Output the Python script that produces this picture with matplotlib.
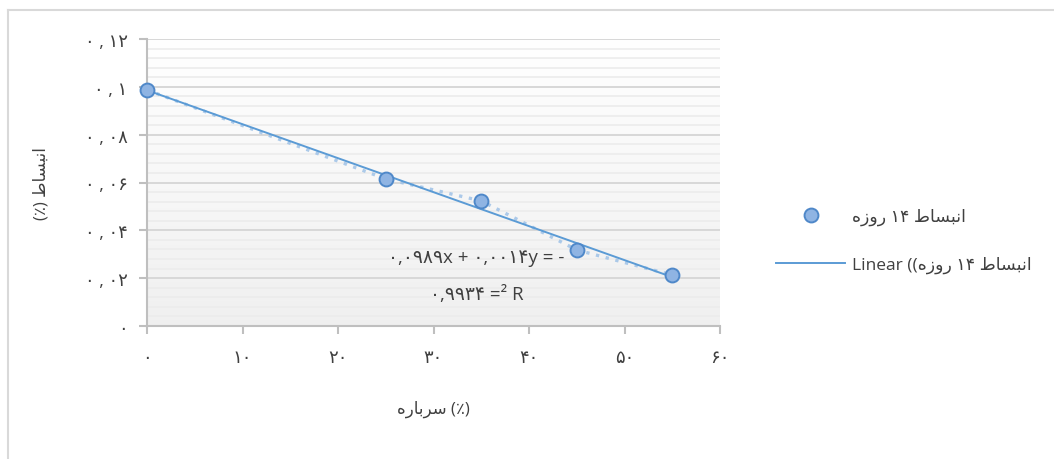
import numpy as np
import matplotlib.pyplot as plt
from matplotlib.lines import Line2D

# data
slag = [0, 25, 35, 45, 55]
expansion = [0.0987, 0.0615, 0.0523, 0.0318, 0.0213]
x_ticks = [0, 10, 20, 30, 40, 50, 60]
y_ticks = [0, 0.02, 0.04, 0.06, 0.08, 0.10, 0.12]

FA_DIGITS = str.maketrans('0123456789.', '۰۱۲۳۴۵۶۷۸۹,')

# (isolated, final, initial, medial) forms; None = letter does not join the next one
FORMS = {
    'ا': ('\uFE8D', '\uFE8E', None, None),
    'ب': ('\uFE8F', '\uFE90', '\uFE91', '\uFE92'),
    'ن': ('\uFEE5', '\uFEE6', '\uFEE7', '\uFEE8'),
    'س': ('\uFEB1', '\uFEB2', '\uFEB3', '\uFEB4'),
    'ط': ('\uFEC1', '\uFEC2', '\uFEC3', '\uFEC4'),
    'ر': ('\uFEAD', '\uFEAE', None, None),
    'ز': ('\uFEAF', '\uFEB0', None, None),
    'و': ('\uFEED', '\uFEEE', None, None),
    'ه': ('\uFEE9', '\uFEEA', '\uFEEB', '\uFEEC'),
}


def shape(word):
    # join the letters of one Persian word and return it in visual order
    out = []
    for i, ch in enumerate(word):
        iso, fin, ini, med = FORMS[ch]
        prev_joins = i > 0 and FORMS[word[i - 1]][2] is not None
        next_joins = i < len(word) - 1 and ini is not None
        if prev_joins and next_joins:
            out.append(med)
        elif prev_joins:
            out.append(fin)
        elif next_joins:
            out.append(ini)
        else:
            out.append(iso)
    return ''.join(out[::-1])


def fa(v):
    s = ('%g' % v)
    return s.translate(FA_DIGITS)


series_name = shape('روزه') + ' ۱۴ ' + shape('انبساط')
x_label = shape('سرباره') + ' (٪)'
y_label = '(٪) ' + shape('انبساط')

plt.rcParams['font.family'] = ['Open Sans', 'DejaVu Sans']

fig = plt.figure(figsize=(10.54, 4.6), dpi=100)
ax = fig.add_axes([147 / 1054, 1 - 327 / 460, (720 - 147) / 1054, (327 - 40) / 460])

# outer chart border (left and top visible)
fig.add_artist(Line2D([8 / 1054, 8 / 1054], [0, 1 - 11 / 460], transform=fig.transFigure,
                      color='#d9d9d9', lw=1.5))
fig.add_artist(Line2D([8 / 1054, 1], [1 - 11 / 460, 1 - 11 / 460], transform=fig.transFigure,
                      color='#d9d9d9', lw=1.5))

# plot area gradient, white at top to light grey at bottom
g = np.linspace(1.0, 0.94, 256).reshape(-1, 1, 1)
grad = np.repeat(g, 3, axis=2)
ax.imshow(grad, extent=[0, 60, 0, 0.12], aspect='auto', origin='upper', zorder=0)

ax.set_xlim(0, 60)
ax.set_ylim(0, 0.12)

# faint stripes and major gridlines
for yv in np.arange(0, 0.1201, 0.004):
    ax.axhline(yv, color='#ececec', lw=1.2, zorder=1)
for yv in y_ticks[1:]:
    ax.axhline(yv, color='#d4d4d4', lw=1.2, zorder=1)

# points joined by a dotted line
ax.plot(slag, expansion, linestyle=(0, (1, 2)), color='#9fc2e7', lw=2.4, alpha=0.85, zorder=2)

# linear trendline
k, b = np.polyfit(slag, expansion, 1)
xs = np.array([min(slag), max(slag)])
ax.plot(xs, k * xs + b, color='#5b9bd5', lw=1.4, zorder=3)

ax.plot(slag, expansion, 'o', ms=10, mfc='#8fb4e3', mec='#4f88c9', mew=1.4, zorder=4,
        clip_on=False)

ax.text(34.5, 0.0290, '۰,۰۹۸۹x + ۰,۰۰۱۴y = -', ha='center', va='center', fontsize=13.5,
        color='#404040', zorder=5)
ax.text(34.5, 0.0133, '۰,۹۹۳۴ =² R', ha='center', va='center', fontsize=13.5,
        color='#404040', zorder=5)

for side in ['top', 'right']:
    ax.spines[side].set_visible(False)
for side in ['left', 'bottom']:
    ax.spines[side].set_color('#bfbfbf')
    ax.spines[side].set_linewidth(1.5)

ax.set_xticks(x_ticks)
ax.set_xticklabels([fa(v) for v in x_ticks])
ax.set_yticks(y_ticks)
ax.set_yticklabels(['۰'] + [fa(round(v, 2)).replace(',', ' , ') for v in y_ticks[1:]])
ax.tick_params(axis='both', colors='#bfbfbf', length=6, width=1.5, labelcolor='#404040',
               labelsize=13)
ax.tick_params(axis='x', pad=10)
ax.tick_params(axis='y', pad=8)

ax.set_xlabel(x_label, fontsize=12, color='#404040', labelpad=24)
ax.set_ylabel(y_label, fontsize=12, color='#404040', labelpad=25)

handles = [
    Line2D([], [], ls='none', marker='o', ms=10, mfc='#8fb4e3', mec='#4f88c9', mew=1.4),
    Line2D([], [], color='#5b9bd5', lw=1.4),
]
labels = [series_name, 'Linear ((' + series_name]
fig.legend(handles, labels, loc='upper left', bbox_to_anchor=(776 / 1054, 1 - 209 / 460),
           frameon=False, fontsize=12.5, handlelength=4.0, handletextpad=0.35,
           labelspacing=1.75, borderpad=0, borderaxespad=0, labelcolor='#404040')

fig.savefig('out.png', dpi=100)
